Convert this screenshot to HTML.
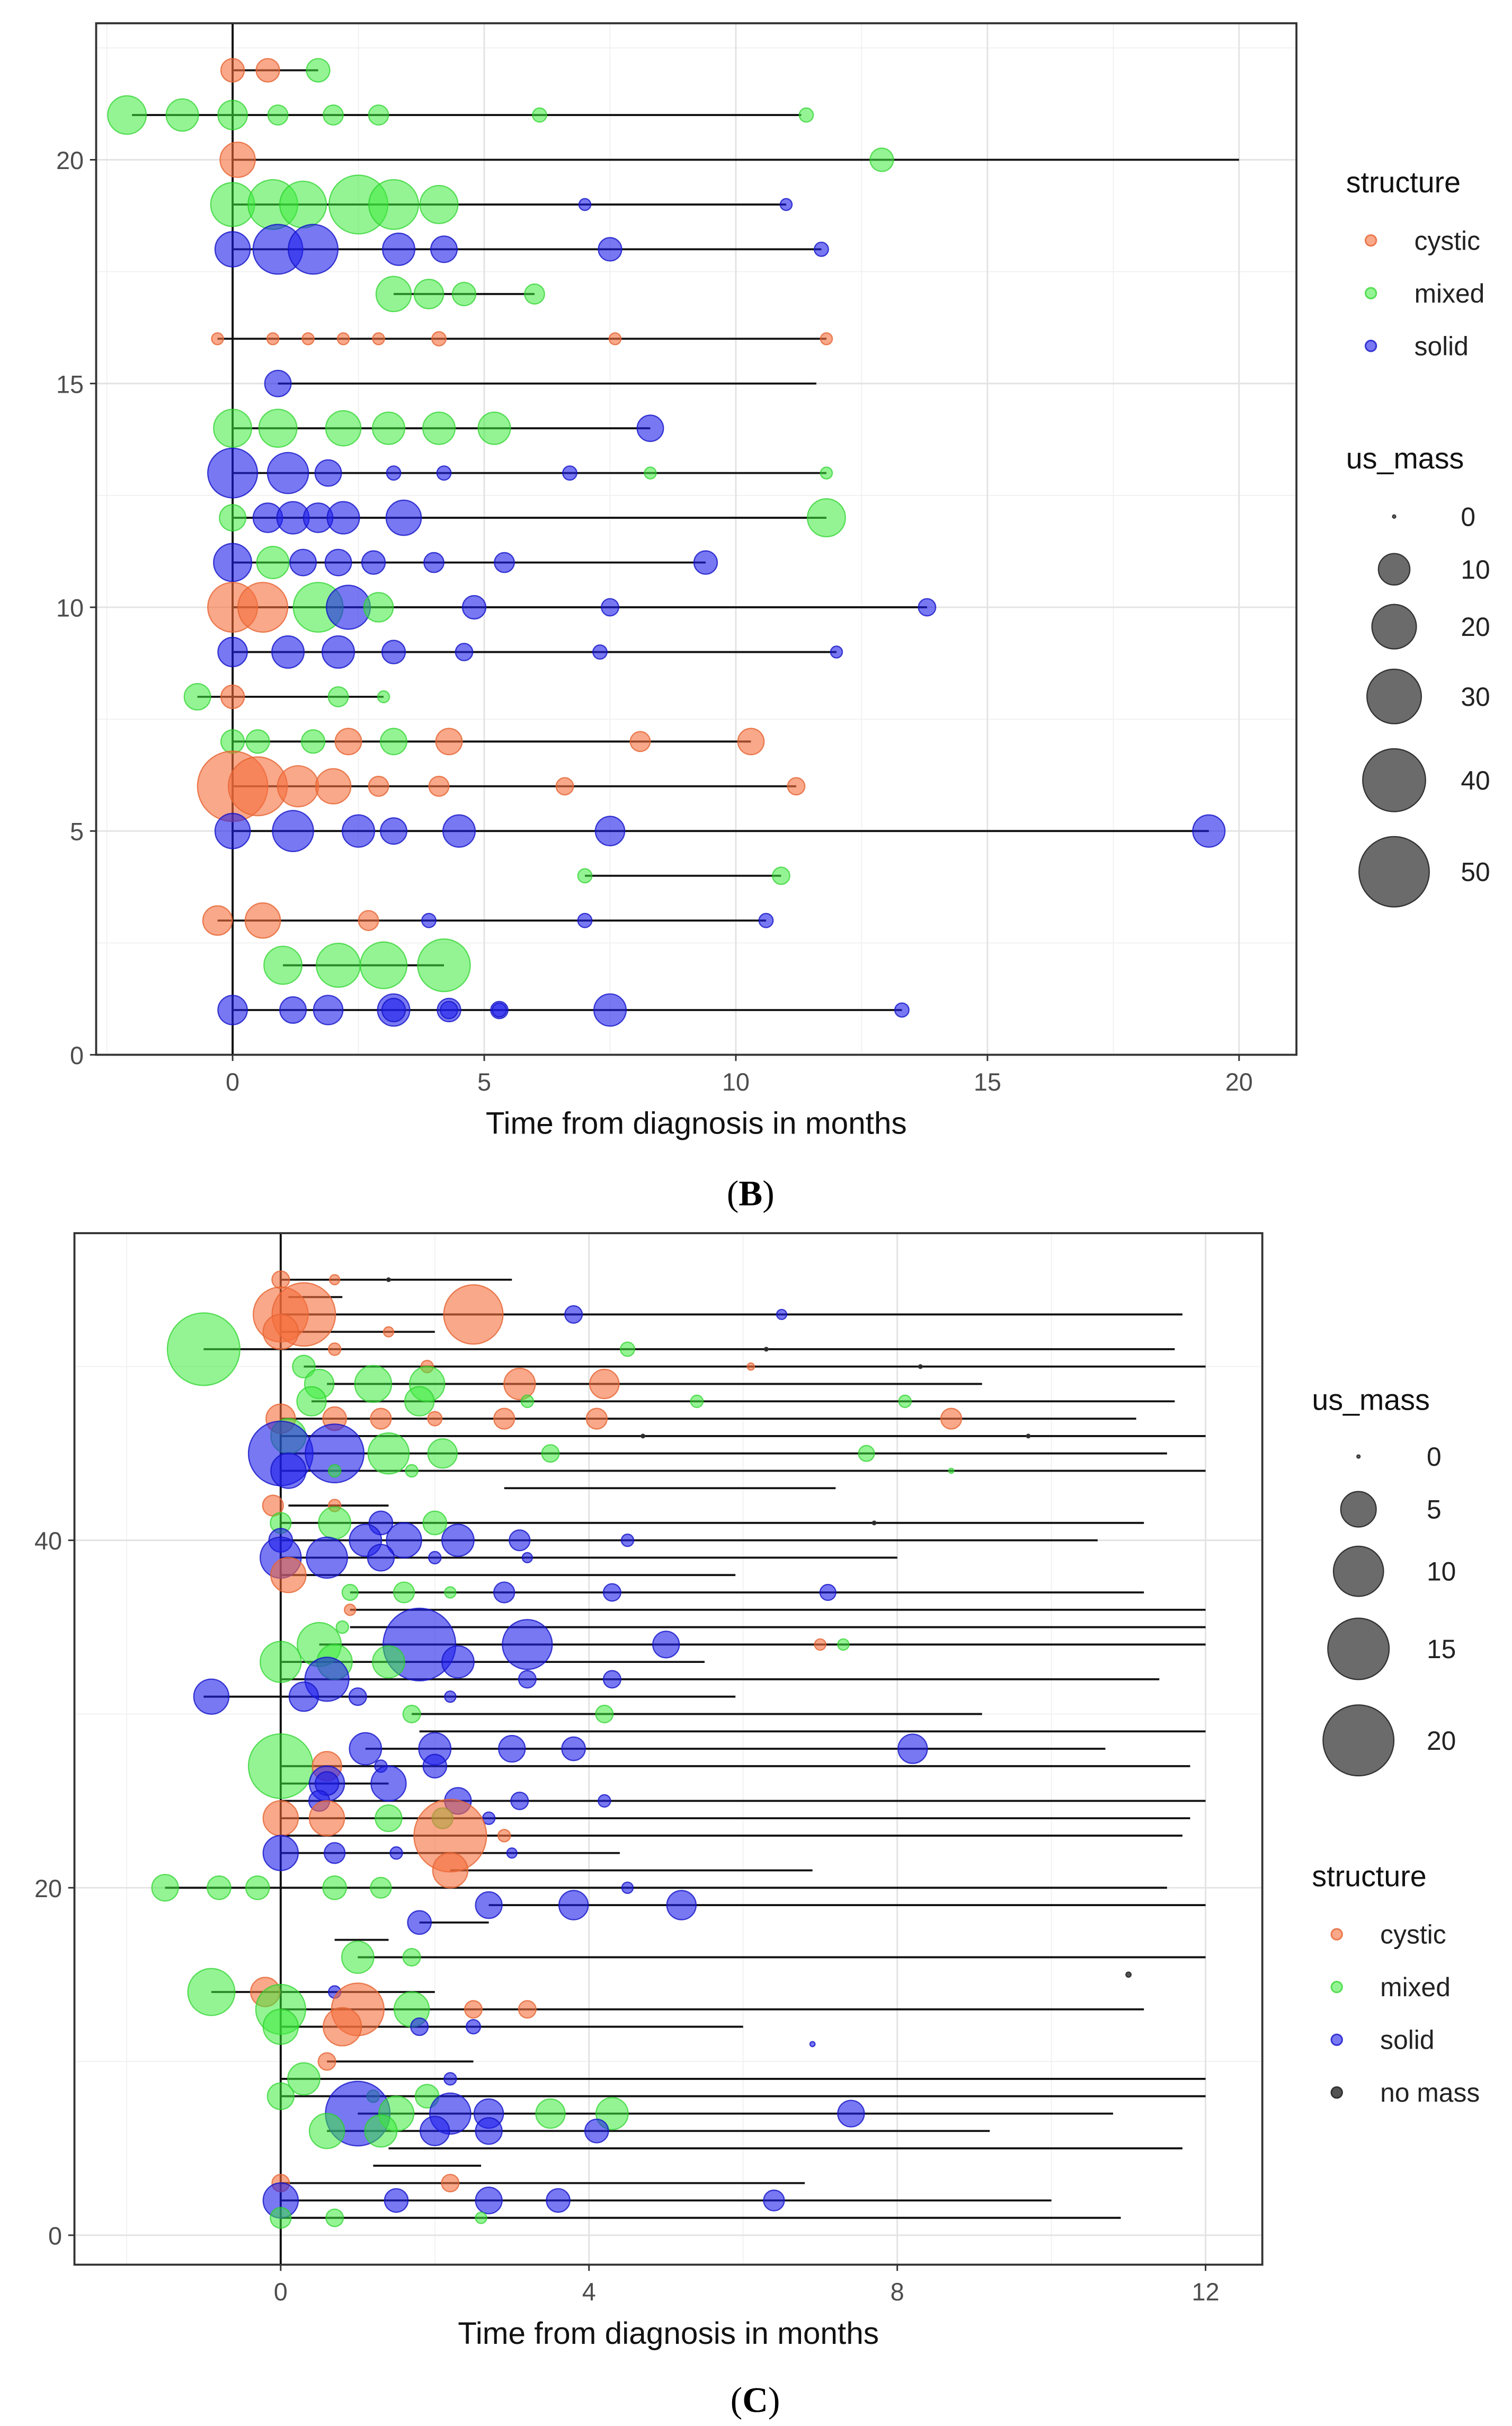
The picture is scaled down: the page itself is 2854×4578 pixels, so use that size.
<!DOCTYPE html>
<html><head><meta charset="utf-8"><style>
html,body{margin:0;padding:0;background:#fff;}
svg{display:block;font-family:"Liberation Sans",sans-serif;}
</style></head><body>
<svg id="fig" width="2854" height="4578" viewBox="0 0 975 1564" preserveAspectRatio="none" xmlns="http://www.w3.org/2000/svg">
<rect x="0" y="0" width="975" height="1564" fill="#fff"/>
<g id="panelB"></g>
<g id="panelC"></g>
<text x="484" y="777" text-anchor="middle" font-family="Liberation Serif,serif" font-size="23">(<tspan font-weight="bold">B</tspan>)</text>
<text x="487" y="1555" text-anchor="middle" font-family="Liberation Serif,serif" font-size="23">(<tspan font-weight="bold">C</tspan>)</text>
</svg>
<script>
// ---- Panel B data: rows [y, lineStart, lineEnd]
const bRows = [[22,0,1.7],[21,-2.0,11.3],[20,0,20],[19,0,11],[18,0,11.7],[17,3.2,6.0],[16,-0.3,11.8],[15,0.9,11.6],[14,0,8.3],[13,0,11.8],[12,0,11.8],[11,0,9.4],[10,0,13.8],[9,0,12],[8,-0.7,3.0],[7,0,10.3],[6,0,11.2],[5,0,19.4],[4,7.0,10.9],[3,-0.3,10.6],[2,1.0,4.2],[1,0,13.3]];
// points: [y, x, us_mass, structure]
const bPoints = [
[22,0,5.5,'c'],[22,0.7,5.5,'c'],[22,1.7,5.5,'m'],
[21,-2.1,15,'m'],[21,-1.0,10.5,'m'],[21,0,8.7,'m'],[21,0.9,4,'m'],[21,2.0,4,'m'],[21,2.9,4,'m'],[21,6.1,2,'m'],[21,11.4,2,'m'],
[20,0.1,12.5,'c'],[20,12.9,5.5,'m'],
[19,0,19.5,'m'],[19,0.8,25,'m'],[19,1.4,22,'m'],[19,2.5,35,'m'],[19,3.2,25,'m'],[19,4.1,14.6,'m'],[19,7.0,1.4,'s'],[19,11.0,1.4,'s'],
[18,0,12.5,'s'],[18,0.9,25,'s'],[18,1.6,25,'s'],[18,3.3,10.5,'s'],[18,4.2,7,'s'],[18,7.5,5.5,'s'],[18,11.7,2,'s'],
[17,3.2,12.5,'m'],[17,3.9,8.7,'m'],[17,4.6,5.5,'m'],[17,6.0,4,'m'],
[16,-0.3,1.4,'c'],[16,0.8,1.4,'c'],[16,1.5,1.4,'c'],[16,2.2,1.4,'c'],[16,2.9,1.4,'c'],[16,4.1,2,'c'],[16,7.6,1.4,'c'],[16,11.8,1.4,'c'],
[15,0.9,7,'s'],
[14,0,14.6,'m'],[14,0.9,14.6,'m'],[14,2.2,12.5,'m'],[14,3.1,10.5,'m'],[14,4.1,10.5,'m'],[14,5.2,10.5,'m'],[14,8.3,7,'s'],
[13,0,25,'s'],[13,1.1,17,'s'],[13,1.9,7,'s'],[13,3.2,2,'s'],[13,4.2,2,'s'],[13,6.7,2,'s'],[13,8.3,1.4,'m'],[13,11.8,1.4,'m'],
[12,0,7,'m'],[12,0.7,8.7,'s'],[12,1.2,10.5,'s'],[12,1.7,8.7,'s'],[12,2.2,10.5,'s'],[12,3.4,12.5,'s'],[12,11.8,14.6,'m'],
[11,0,14.6,'s'],[11,0.8,10.5,'m'],[11,1.4,7,'s'],[11,2.1,7,'s'],[11,2.8,5.5,'s'],[11,4.0,4,'s'],[11,5.4,4,'s'],[11,9.4,5.5,'s'],
[10,0,25,'c'],[10,0.6,25,'c'],[10,1.7,25,'m'],[10,2.3,19.5,'s'],[10,2.9,8.7,'m'],[10,4.8,5.5,'s'],[10,7.5,3,'s'],[10,13.8,3,'s'],
[9,0,8.7,'s'],[9,1.1,10.5,'s'],[9,2.1,10.5,'s'],[9,3.2,5.5,'s'],[9,4.6,3,'s'],[9,7.3,2,'s'],[9,12.0,1.4,'s'],
[8,-0.7,7,'m'],[8,0,5.5,'c'],[8,2.1,4,'m'],[8,3.0,1.4,'m'],
[7,0,5.5,'m'],[7,0.5,5.5,'m'],[7,1.6,5.5,'m'],[7,2.3,7,'c'],[7,3.2,7,'m'],[7,4.3,7,'c'],[7,8.1,4,'c'],[7,10.3,7,'c'],
[6,0,50,'c'],[6,0.5,35,'c'],[6,1.3,17,'c'],[6,2.0,12.5,'c'],[6,2.9,4,'c'],[6,4.1,4,'c'],[6,6.6,3,'c'],[6,11.2,3,'c'],
[5,0,12.5,'s'],[5,1.2,17,'s'],[5,2.5,10.5,'s'],[5,3.2,7,'s'],[5,4.5,10.5,'s'],[5,7.5,8.7,'s'],[5,19.4,10.5,'s'],
[4,7.0,2,'m'],[4,10.9,3,'m'],
[3,-0.3,8.7,'c'],[3,0.6,12.5,'c'],[3,2.7,4,'c'],[3,3.9,2,'s'],[3,7.0,2,'s'],[3,10.6,2,'s'],
[2,1.0,14.6,'m'],[2,2.1,19.5,'m'],[2,3.0,22,'m'],[2,4.2,28,'m'],
[1,0,8.7,'s'],[1,1.2,7,'s'],[1,1.9,8.7,'s'],[1,3.2,10.5,'s'],[1,3.2,5.5,'s'],[1,4.3,5.5,'s'],[1,4.3,3,'s'],[1,5.3,3,'s'],[1,5.3,2,'s'],[1,7.5,10.5,'s'],[1,13.3,2,'s']
];
const bXTicks = [0,5,10,15,20];
const bYTicks = [0,5,10,15,20];
const bMassLegend = [0,10,20,30,40,50];

// ---- Panel C data
const cRows = [[55,0,3.0],[54,0.1,0.8],[53,0,11.7],[52,0,2.0],[51,-1.0,11.6],[50,0.3,12],[49,0.6,9.1],[48,0.4,11.6],[47,0,11.1],[46,0,12],[45,0,11.5],[44,0,12],[43,2.9,7.2],[42,0.1,1.4],[41,0,11.2],[40,0,10.6],[39,0,8],[38,0,5.9],[37,0.9,11.2],[36,0.9,12],[35,0.9,12],[34,0.5,12],[33,0,5.5],[32,0,11.4],[31,-1.0,5.9],[30,1.7,9.1],[29,1.8,12],[28,1.1,10.7],[27,0,11.8],[26,0,1.4],[25,0,12],[24,0,11.8],[23,0,11.7],[22,0,4.4],[21,2.2,6.9],[20,-1.5,11.5],[19,2.7,12],[18,1.8,2.7],[17,0.7,1.4],[16,1.0,12],[14,-0.9,2.0],[13,0,11.2],[12,0,6.0],[10,0.6,2.5],[9,0,12],[8,0,12],[7,1.0,10.8],[6,0.6,9.2],[5,1.4,11.7],[4,1.2,2.6],[3,0,6.8],[2,0,10.0],[1,0,10.9]];
const cPoints = [
[55,0,1.2,'c'],[55,0.7,0.4,'c'],[55,1.4,0.05,'n'],
[53,0,12,'c'],[53,0.3,16,'c'],[53,2.5,14,'c'],[53,3.8,1.2,'s'],[53,6.5,0.4,'s'],
[52,0,4.9,'c'],[52,1.4,0.4,'c'],
[51,-1.0,21,'m'],[51,0.7,0.6,'c'],[51,4.5,0.8,'m'],[51,6.3,0.05,'n'],
[50,0.3,2,'m'],[50,1.9,0.6,'c'],[50,6.1,0.2,'c'],[50,8.3,0.05,'n'],
[49,1.2,5.4,'m'],[49,1.9,4.9,'m'],[49,3.1,3.9,'c'],[49,4.2,3.4,'c'],[49,0.5,3.4,'m'],
[48,0.4,3.4,'m'],[48,1.8,3.4,'m'],[48,3.2,0.6,'m'],[48,5.4,0.6,'m'],[48,8.1,0.6,'m'],
[47,0,3.4,'c'],[47,0.7,2.2,'c'],[47,1.3,1.7,'c'],[47,2.0,0.8,'c'],[47,2.9,1.7,'c'],[47,4.1,1.7,'c'],[47,8.7,1.7,'c'],
[46,0.1,4.9,'m'],[46,4.7,0.05,'n'],[46,9.7,0.05,'n'],
[45,0,16.6,'s'],[45,0.7,13.7,'s'],[45,1.4,6.7,'m'],[45,2.1,3.4,'m'],[45,3.5,1.2,'m'],[45,7.6,1.0,'m'],
[44,0.1,4.9,'s'],[44,0.7,0.6,'m'],[44,1.7,0.6,'m'],[44,8.7,0.1,'m'],
[42,-0.1,1.7,'c'],[42,0.7,0.6,'c'],
[41,0,1.7,'m'],[41,0.7,4.1,'m'],[41,1.3,2.2,'s'],[41,2.0,2.2,'m'],[41,7.7,0.05,'n'],
[40,0,2.2,'s'],[40,1.1,4.1,'s'],[40,1.6,4.9,'s'],[40,2.3,4.1,'s'],[40,3.1,1.7,'s'],[40,4.5,0.6,'s'],
[39,0,6.7,'s'],[39,0.6,6.7,'s'],[39,1.3,2.8,'s'],[39,2.0,0.6,'s'],[39,3.2,0.4,'s'],
[38,0.1,4.9,'c'],
[37,0.9,1.0,'m'],[37,1.6,1.7,'m'],[37,2.2,0.5,'m'],[37,2.9,1.7,'s'],[37,4.3,1.2,'s'],[37,7.1,1.0,'s'],
[36,0.9,0.5,'c'],
[35,0.8,0.6,'m'],
[34,0.5,7.7,'m'],[34,1.8,21,'s'],[34,3.2,9.9,'s'],[34,5.0,2.8,'s'],[34,7.0,0.5,'c'],[34,7.3,0.5,'m'],
[33,0,6.7,'m'],[33,0.7,4.9,'m'],[33,1.4,4.1,'m'],[33,2.3,4.1,'s'],
[32,0.6,7.7,'s'],[32,3.2,1.2,'s'],[32,4.3,1.2,'s'],
[31,-0.9,4.9,'s'],[31,0.3,3.4,'s'],[31,1.0,1.2,'s'],[31,2.2,0.5,'s'],
[30,1.7,1.2,'m'],[30,4.2,1.2,'m'],
[28,1.1,4.1,'s'],[28,2.0,4.1,'s'],[28,3.0,2.8,'s'],[28,3.8,2.2,'s'],[28,8.2,3.4,'s'],
[27,0,16.6,'m'],[27,0.6,3.4,'c'],[27,2.0,2.2,'s'],[27,1.3,0.6,'s'],
[26,0.6,4.9,'s'],[26,1.4,4.9,'s'],[26,0.6,2.2,'s'],
[25,0.5,1.7,'s'],[25,2.3,2.8,'s'],[25,3.1,1.2,'s'],[25,4.2,0.6,'s'],
[24,0,4.9,'c'],[24,0.6,4.9,'c'],[24,1.4,2.8,'m'],[24,2.1,1.7,'m'],[24,2.7,0.6,'s'],
[23,2.2,21,'c'],[23,2.9,0.6,'c'],
[22,0,4.9,'s'],[22,0.7,1.7,'s'],[22,1.5,0.6,'s'],[22,3.0,0.4,'s'],
[21,2.2,4.9,'c'],
[20,-1.5,2.8,'m'],[20,-0.8,2.2,'m'],[20,-0.3,2.2,'m'],[20,0.7,2.2,'m'],[20,1.3,1.7,'m'],[20,4.5,0.5,'s'],
[19,2.7,2.8,'s'],[19,3.8,3.4,'s'],[19,5.2,3.4,'s'],
[18,1.8,2.2,'s'],
[16,1.0,4.1,'m'],[16,1.7,1.2,'m'],
[15,11.0,0.1,'n'],
[14,-0.9,8.8,'m'],[14,-0.2,3.4,'c'],[14,0.7,0.6,'s'],
[13,0,9.9,'m'],[13,1.0,11,'c'],[13,1.7,4.9,'m'],[13,2.5,1.2,'c'],[13,3.2,1.2,'c'],
[12,0,4.9,'m'],[12,0.8,5.8,'c'],[12,1.8,1.2,'s'],[12,2.5,0.8,'s'],
[11,6.9,0.1,'s'],
[10,0.6,1.2,'c'],
[9,0.3,4.1,'m'],[9,2.2,0.6,'s'],
[8,0,2.8,'m'],[8,1.2,0.6,'m'],[8,1.9,2.2,'m'],
[7,1.0,16.6,'s'],[7,1.5,4.9,'m'],[7,2.2,6.7,'s'],[7,2.7,3.4,'s'],[7,3.5,3.4,'m'],[7,4.3,4.1,'m'],[7,7.4,2.8,'s'],
[6,0.6,4.9,'m'],[6,1.3,4.1,'m'],[6,2.0,3.4,'s'],[6,2.7,2.8,'s'],[6,4.1,2.2,'s'],
[3,0,1.2,'c'],[3,2.2,1.2,'c'],
[2,0,4.9,'s'],[2,1.5,2.2,'s'],[2,2.7,2.8,'s'],[2,3.6,2.2,'s'],[2,6.4,1.7,'s'],
[1,0,1.7,'m'],[1,0.7,1.2,'m'],[1,2.6,0.5,'m']
];
const cXTicks = [0,4,8,12];
const cYTicks = [0,20,40];
const cMassLegend = [0,5,10,15,20];

const NS='http://www.w3.org/2000/svg';
const FILL={c:'rgba(245,110,60,0.6)',m:'rgba(60,235,60,0.55)',s:'rgba(30,30,235,0.6)',n:'rgba(40,40,40,0.8)'};
const STROKE={c:'rgba(230,100,50,0.8)',m:'rgba(40,210,40,0.7)',s:'rgba(20,20,200,0.8)',n:'#333'};
const NAMES={c:'cystic',m:'mixed',s:'solid',n:'no-mass'};
function mk(parent,tag,attrs){const e=document.createElementNS(NS,tag);for(const k in attrs)e.setAttribute(k,attrs[k]);parent.appendChild(e);return e;}

function panel(g,o){
  const X=v=>o.x0+o.xs*v, Y=v=>o.y0-o.ys*v;
  const r=m=>Math.max(1,o.k*Math.sqrt(m));
  let e=mk(g,'rect',{x:o.L,y:o.T,width:o.R-o.L,height:o.B-o.T,fill:'#fff'});
  
  
  for(const v of o.xMinor){e=mk(g,'line',{x1:X(v),x2:X(v),y1:o.T,y2:o.B,stroke:'#f0f0f0','stroke-width':0.6});}
  for(const v of o.yMinor){e=mk(g,'line',{x1:o.L,x2:o.R,y1:Y(v),y2:Y(v),stroke:'#f0f0f0','stroke-width':0.6});}
  for(const v of o.xt){e=mk(g,'line',{x1:X(v),x2:X(v),y1:o.T,y2:o.B,stroke:'#e3e3e3','stroke-width':1});
    e=mk(g,'line',{x1:X(v),x2:X(v),y1:o.B,y2:o.B+4,stroke:'#333','stroke-width':1});
    e=mk(g,'text',{x:X(v),y:o.B+23,'text-anchor':'middle','font-size':16,fill:'#4d4d4d'});e.textContent=v;}
  for(const v of o.yt){e=mk(g,'line',{x1:o.L,x2:o.R,y1:Y(v),y2:Y(v),stroke:'#e3e3e3','stroke-width':1});
    e=mk(g,'line',{x1:o.L-4,x2:o.L,y1:Y(v),y2:Y(v),stroke:'#333','stroke-width':1});
    e=mk(g,'text',{x:o.L-8,y:Y(v)+6,'text-anchor':'end','font-size':16,fill:'#4d4d4d'});e.textContent=v;}
  e=mk(g,'line',{x1:X(0),x2:X(0),y1:o.T,y2:o.B,stroke:'#000','stroke-width':1.3});
  
  
  for(const rw of o.rows){e=mk(g,'line',{x1:X(rw[1]),x2:X(rw[2]),y1:Y(rw[0]),y2:Y(rw[0]),stroke:'#111','stroke-width':1.3});
    
    }
  for(const p of o.pts){e=mk(g,'circle',{cx:X(p[1]),cy:Y(p[0]),r:r(p[2]),fill:FILL[p[3]],stroke:STROKE[p[3]],'stroke-width':0.8});
    
    }
  e=mk(g,'rect',{x:o.L,y:o.T,width:o.R-o.L,height:o.B-o.T,fill:'none',stroke:'#333','stroke-width':1.3});
  
  
  e=mk(g,'text',{x:(o.L+o.R)/2,y:o.B+51,'text-anchor':'middle','font-size':20,fill:'#111'});
  e.textContent='Time from diagnosis in months';
  
  
  e=mk(g,'text',{x:o.sx,y:o.sy,'font-size':19,fill:'#111'});e.textContent='structure';
  
  
  o.sKeys.forEach((k,i)=>{const yy=o.sy+37+34*i;
    e=mk(g,'circle',{cx:o.sx+16,cy:yy-6,r:3.5,fill:FILL[k],stroke:STROKE[k]});
    
    
    e=mk(g,'text',{x:o.sx+44,y:yy,'font-size':17,fill:'#222'});e.textContent=NAMES[k].replace('-',' ');
    
    });
  e=mk(g,'text',{x:o.mx,y:o.my,'font-size':19,fill:'#111'});e.textContent='us_mass';
  
  
  o.mLeg.forEach((m,i)=>{const yy=o.mYs[i];
    e=mk(g,'circle',{cx:o.mx+o.mcx,cy:yy,r:r(m),fill:'rgba(70,70,70,0.8)',stroke:'#333','stroke-width':0.8});
    
    
    e=mk(g,'text',{x:o.mx+o.mlx,y:yy+6,'font-size':17,fill:'#222'});e.textContent=m;
    
    });
}
panel(document.getElementById('panelB'),{L:62,R:836,T:15,B:680,x0:150,xs:32.45,y0:680,ys:28.85,k:3.2,
  xt:bXTicks,yt:bYTicks,xMinor:[-2.5,2.5,7.5,12.5,17.5],yMinor:[2.5,7.5,12.5,17.5,22.5],
  rows:bRows,pts:bPoints,sx:868,sy:124,sKeys:['c','m','s'],mx:868,my:302,mcx:31,mlx:74,mLeg:bMassLegend,mYs:[333,367,404,449,503,562]});
panel(document.getElementById('panelC'),{L:48,R:814,T:795,B:1460,x0:181,xs:49.7,y0:1441,ys:11.2,k:5.1,
  xt:cXTicks,yt:cYTicks,xMinor:[-2,2,6,10],yMinor:[10,30,50],
  rows:cRows,pts:cPoints,sx:846,sy:1216,sKeys:['c','m','s','n'],mx:846,my:909,mcx:30,mlx:74,mLeg:cMassLegend,mYs:[939,973,1013,1063,1122]});
</script>
</body></html>
